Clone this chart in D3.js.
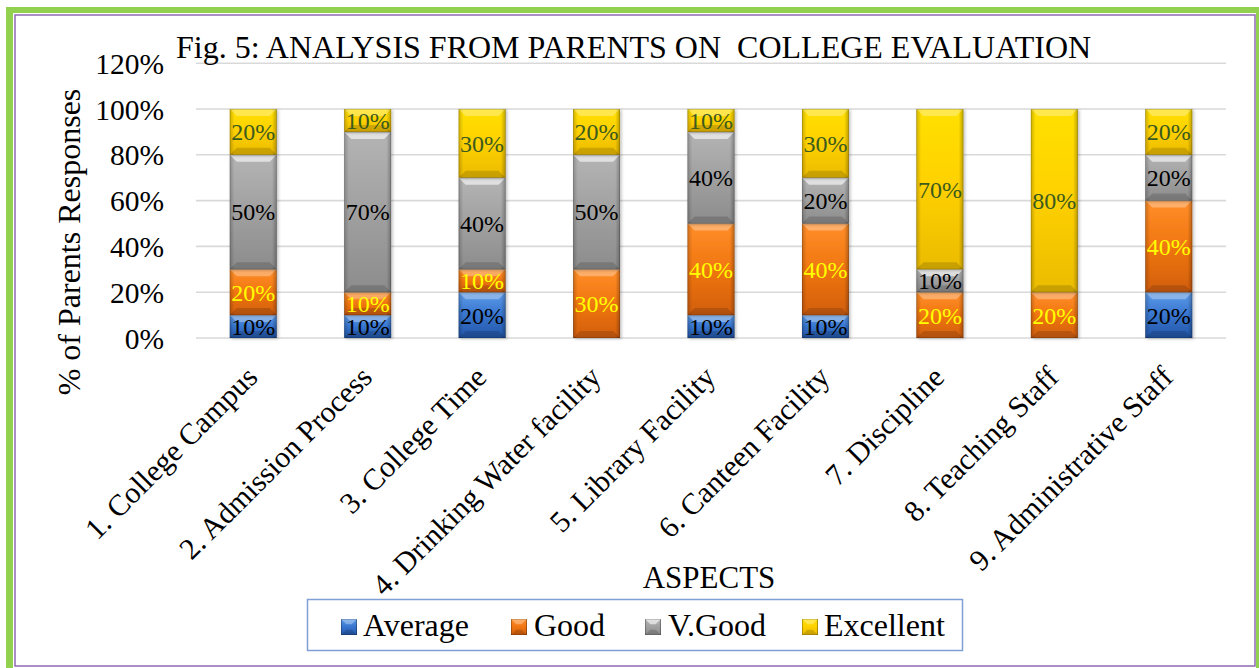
<!DOCTYPE html>
<html>
<head>
<meta charset="utf-8">
<script src="https://cdn.jsdelivr.net/npm/d3@7"></script>
<style>
  html, body { margin: 0; padding: 0; background: #ffffff; }
  svg { display: block; font-family: "Liberation Serif", "Times New Roman", serif; }
</style>
</head>
<body>
<svg id="chart" width="1259" height="668"></svg>
<script>
// ---------- data ----------
const categories = ["1. College Campus", "2. Admission Process", "3. College Time",
  "4. Drinking Water facility", "5. Library Facility", "6. Canteen Facility",
  "7. Discipline", "8. Teaching Staff", "9. Administrative Staff"];
const seriesNames = ["Average", "Good", "V.Good", "Excellent"];
const averageValues   = [10, 10, 20, 0, 10, 10, 0, 0, 20];
const goodValues      = [20, 10, 10, 30, 40, 40, 20, 20, 40];
const vgoodValues     = [50, 70, 40, 50, 40, 20, 10, 0, 20];
const excellentValues = [20, 10, 30, 20, 10, 30, 70, 80, 20];
const yTicks = [0, 20, 40, 60, 80, 100, 120];
const titleText = "Fig. 5: ANALYSIS FROM PARENTS ON  COLLEGE EVALUATION";
const yTitle = "% of Parents Responses";
const xTitle = "ASPECTS";

const seriesValues = [averageValues, goodValues, vgoodValues, excellentValues];
const seriesStyle = [
  { top: "#5f9ce8", mid: "#3a78d2", bot: "#2356a8", label: "#000000" },
  { top: "#ff8e2a", mid: "#f27812", bot: "#d25e0c", label: "#ffff00" },
  { top: "#b4b4b4", mid: "#a2a2a2", bot: "#8c8c8c", label: "#000000" },
  { top: "#ffe000", mid: "#ffd200", bot: "#ebbb00", label: "#3b5a1e" }
];

const svg = d3.select("#chart");
const W = 1259, H = 668;
const FONT = "Liberation Serif, Times New Roman, serif";

// ---------- frame ----------
svg.append("rect").attr("x", 6).attr("y", 7).attr("width", W - 6).attr("height", H - 7)
  .attr("fill", "#92d050");
svg.append("rect").attr("x", 13).attr("y", 13).attr("width", 1243).attr("height", H - 13)
  .attr("fill", "#ffffff");
svg.append("rect").attr("x", 15).attr("y", 15).attr("width", 1240).attr("height", 651)
  .attr("fill", "none").attr("stroke", "#8e6bb5").attr("stroke-width", 1.5);

// ---------- defs ----------
const defs = svg.append("defs");
seriesStyle.forEach((s, i) => {
  const g = defs.append("linearGradient").attr("id", "grad" + i)
    .attr("x1", 0).attr("y1", 0).attr("x2", 0).attr("y2", 1);
  g.append("stop").attr("offset", "0%").attr("stop-color", s.top);
  g.append("stop").attr("offset", "45%").attr("stop-color", s.mid);
  g.append("stop").attr("offset", "100%").attr("stop-color", s.bot);
});
const side = defs.append("linearGradient").attr("id", "side")
  .attr("x1", 0).attr("y1", 0).attr("x2", 1).attr("y2", 0);
side.append("stop").attr("offset", "0%").attr("stop-color", "#000").attr("stop-opacity", 0.2);
side.append("stop").attr("offset", "10%").attr("stop-color", "#000").attr("stop-opacity", 0.0);
side.append("stop").attr("offset", "90%").attr("stop-color", "#000").attr("stop-opacity", 0.0);
side.append("stop").attr("offset", "100%").attr("stop-color", "#000").attr("stop-opacity", 0.26);
const shadow = defs.append("filter").attr("id", "shadow")
  .attr("x", "-20%").attr("y", "-20%").attr("width", "140%").attr("height", "140%");
shadow.append("feDropShadow").attr("dx", 1.5).attr("dy", 1).attr("stdDeviation", 1.5)
  .attr("flood-color", "#000").attr("flood-opacity", 0.25);

// ---------- scales ----------
const plotLeft = 196, plotRight = 1226;
const x = d3.scaleBand().domain(categories).range([plotLeft, plotRight])
  .paddingInner(0.59).paddingOuter(0.295);
const y = d3.scaleLinear().domain([0, 120]).range([338, 63.2]);

// ---------- gridlines ----------
svg.append("g").selectAll("line").data(yTicks).join("line")
  .attr("x1", plotLeft).attr("x2", plotRight)
  .attr("y1", d => y(d)).attr("y2", d => y(d))
  .attr("stroke", "#d9d9d9").attr("stroke-width", 1.6);

// ---------- y axis ----------
const yAxis = svg.append("g").attr("transform", `translate(${plotLeft},0)`)
  .call(d3.axisLeft(y).tickValues(yTicks).tickSize(0).tickPadding(32).tickFormat(d => d + "%"));
yAxis.attr("font-family", FONT);
yAxis.select(".domain").remove();
yAxis.selectAll("text").attr("font-family", FONT)
  .attr("font-size", 29.5).attr("fill", "#000").attr("dy", "0.34em");

// ---------- x axis ----------
const xAxis = svg.append("g").attr("transform", `translate(0,${y(0)})`)
  .call(d3.axisBottom(x).tickSize(0).tickPadding(0));
xAxis.attr("font-family", FONT);
xAxis.select(".domain").remove();
xAxis.selectAll("text").attr("font-family", FONT)
  .attr("font-size", 30).attr("fill", "#000")
  .attr("text-anchor", "end").attr("dy", 0)
  .attr("transform", "translate(6,41) rotate(-45)");

// ---------- stacked bars ----------
const rows = categories.map((c, i) => {
  const r = { category: c };
  seriesNames.forEach((s, k) => r[s] = seriesValues[k][i]);
  return r;
});
const stack = d3.stack().keys(seriesNames)(rows);

function bevelSeg(g, x0, y0, w, h, k) {
  const b = Math.min(7, h / 3);
  g.append("rect").attr("x", x0).attr("y", y0).attr("width", w).attr("height", h)
    .attr("fill", `url(#grad${k})`);
  g.append("rect").attr("x", x0).attr("y", y0).attr("width", w).attr("height", h)
    .attr("fill", "url(#side)");
  g.append("polygon")
    .attr("points", [[x0, y0], [x0 + w, y0], [x0 + w - b, y0 + b], [x0 + b, y0 + b]].map(p => p.join(",")).join(" "))
    .attr("fill", "#ffffff").attr("fill-opacity", k === 2 ? 0.6 : 0.3);
  g.append("polygon")
    .attr("points", [[x0, y0 + h], [x0 + w, y0 + h], [x0 + w - b, y0 + h - b], [x0 + b, y0 + h - b]].map(p => p.join(",")).join(" "))
    .attr("fill", "#000").attr("fill-opacity", 0.15);
  g.append("rect").attr("x", x0 + 0.3).attr("y", y0 + 0.3).attr("width", w - 0.6).attr("height", h - 0.6)
    .attr("fill", "none").attr("stroke", "#000").attr("stroke-opacity", 0.25).attr("stroke-width", 0.6);
}

const barsG = svg.append("g");
stack.forEach((layer, k) => {
  layer.forEach((d, i) => {
    const v = d[1] - d[0];
    if (v <= 0) return;
    const x0 = x(categories[i]);
    const y0 = y(d[1]);
    const h = y(d[0]) - y(d[1]);
    const g = barsG.append("g").attr("filter", "url(#shadow)");
    bevelSeg(g, x0, y0, x.bandwidth(), h, k);
  });
});
const labelsG = svg.append("g").attr("font-family", FONT);
stack.forEach((layer, k) => {
  layer.forEach((d, i) => {
    const v = d[1] - d[0];
    if (v <= 0) return;
    labelsG.append("text")
      .attr("x", x(categories[i]) + x.bandwidth() / 2)
      .attr("y", (y(d[0]) + y(d[1])) / 2)
      .attr("dy", "0.35em")
      .attr("text-anchor", "middle")
      .attr("font-size", 24)
      .attr("fill", seriesStyle[k].label)
      .text(v + "%");
  });
});

// ---------- titles ----------
svg.append("text").attr("x", 176).attr("y", 58)
  .attr("font-size", 32).attr("fill", "#000").style("white-space", "pre")
  .text(titleText);
svg.append("text")
  .attr("transform", `translate(80,242) rotate(-90)`)
  .attr("text-anchor", "middle").attr("font-size", 32).attr("fill", "#000")
  .text(yTitle);
svg.append("text").attr("x", 709).attr("y", 588)
  .attr("text-anchor", "middle").attr("font-size", 31).attr("fill", "#000")
  .text(xTitle);

// ---------- legend ----------
svg.append("rect").attr("x", 307.5).attr("y", 599.5).attr("width", 655).attr("height", 51)
  .attr("fill", "#ffffff").attr("stroke", "#7f9fd6").attr("stroke-width", 1.5);
const legendX = [341, 511, 645, 802];
const legendTextX = [363, 534, 668, 824];
const legend = svg.append("g");
seriesNames.forEach((name, k) => {
  const g = legend.append("g");
  bevelSeg(g, legendX[k], 619, 16, 16, k);
  g.append("text").attr("x", legendTextX[k]).attr("y", 636)
    .attr("font-size", 32).attr("fill", "#000").text(name);
});
</script>
</body>
</html>
